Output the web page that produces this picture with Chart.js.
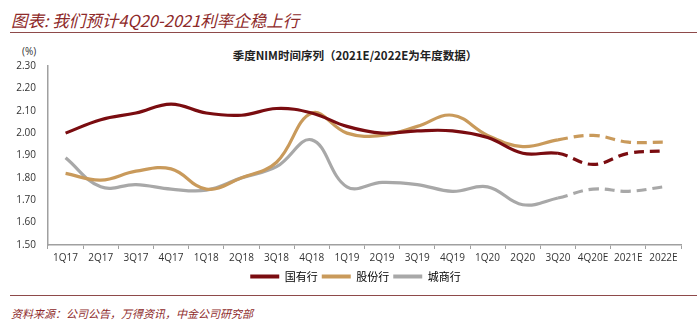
<!DOCTYPE html>
<html>
<head>
<meta charset="utf-8">
<script src="https://cdn.jsdelivr.net/npm/chart.js@4/dist/chart.umd.min.js"></script>
<style>
  html, body { margin: 0; padding: 0; background: #fff; }
  body { width: 697px; height: 335px; position: relative; overflow: hidden; font-family: "Noto Sans CJK SC", "Noto Sans", sans-serif; }
  #title { position: absolute; left: 11px; top: 8px; font-size: 16.5px; font-style: italic; color: #8e2a2a; white-space: nowrap; }
  #rule1 { position: absolute; left: 10px; right: 0; top: 32px; height: 0; border-top: 1.5px solid #8e4a4a; }
  #rule2 { position: absolute; left: 10px; right: 0; top: 295px; height: 0; border-top: 1.5px solid #8e4a4a; }
  #source { position: absolute; left: 11px; top: 305px; font-size: 11px; font-style: italic; color: #8e2a2a; white-space: nowrap; }
  #unit { position: absolute; left: 22px; top: 44px; font-size: 10px; color: #333; font-family: "Open Sans", sans-serif; }
  #ctitle { position: absolute; left: 355px; top: 47px; transform: translateX(-50%); font-size: 11.5px; font-weight: bold; color: #222; white-space: nowrap; }
  #wrap { position: absolute; left: 0; top: 40px; width: 697px; height: 252px; }
</style>
</head>
<body>
<div id="title">图表: 我们预计4Q20-2021利率企稳上行</div>
<div id="rule1"></div>
<div id="unit">(%)</div>
<div id="ctitle">季度NIM时间序列（2021E/2022E为年度数据）</div>
<div id="wrap"><canvas id="c"></canvas></div>
<div id="rule2"></div>
<div id="source">资料来源：公司公告，万得资讯，中金公司研究部</div>
<script>
const categories = ["1Q17","2Q17","3Q17","4Q17","1Q18","2Q18","3Q18","4Q18","1Q19","2Q19","3Q19","4Q19","1Q20","2Q20","3Q20","4Q20E","2021E","2022E"];
const stateOwned = [2.00, 2.06, 2.09, 2.13, 2.09, 2.08, 2.11, 2.09, 2.03, 2.00, 2.01, 2.01, 1.98, 1.91, 1.91, 1.86, 1.91, 1.92];
const jointStock = [1.82, 1.79, 1.83, 1.84, 1.75, 1.80, 1.87, 2.09, 2.00, 1.99, 2.03, 2.08, 1.99, 1.94, 1.97, 1.99, 1.96, 1.96];
const cityBanks  = [1.89, 1.76, 1.77, 1.75, 1.745, 1.80, 1.85, 1.97, 1.76, 1.78, 1.77, 1.74, 1.76, 1.68, 1.71, 1.75, 1.74, 1.76];
const seriesNames = ["国有行", "股份行", "城商行"];
const yTicks = [1.50, 1.60, 1.70, 1.80, 1.90, 2.00, 2.10, 2.20, 2.30];
const forecastStart = 15;

const colors = ["#7a0c10", "#c99a5b", "#a8a8a8"];
const dash = [10, 6];

function mk(label, data, color) {
  return {
    label, data,
    borderColor: color,
    backgroundColor: color,
    borderWidth: 3.2,
    pointRadius: 0,
    pointHoverRadius: 0,
    tension: 0.4,
    fill: false,
    segment: {
      borderDash: ctx => ctx.p1DataIndex >= forecastStart ? dash : undefined
    }
  };
}

const legendShift = {
  id: "legendShift",
  afterLayout(chart) {
    if (chart.legend) { chart.legend.left += 15; chart.legend.right += 15; }
  }
};

new Chart(document.getElementById("c"), {
  type: "line",
  data: {
    labels: categories,
    datasets: [
      mk(seriesNames[0], stateOwned, colors[0]),
      mk(seriesNames[1], jointStock, colors[1]),
      mk(seriesNames[2], cityBanks, colors[2])
    ]
  },
  plugins: [legendShift],
  options: {
    responsive: true,
    maintainAspectRatio: false,
    animation: false,
    devicePixelRatio: 1,
    layout: { padding: { left: 0, right: 16, top: 26, bottom: 0 } },
    plugins: {
      title: { display: false },
      legend: {
        position: "bottom",
        labels: {
          boxWidth: 29,
          boxHeight: 4,
          padding: 4,
          color: "#404040",
          font: { size: 11, family: "'Noto Sans CJK SC', sans-serif" },
          generateLabels: chart => chart.data.datasets.map((ds, i) => ({
            text: ds.label,
            fillStyle: ds.borderColor,
            strokeStyle: ds.borderColor,
            lineWidth: 0,
            datasetIndex: i,
            hidden: false
          }))
        }
      },
      tooltip: { enabled: false }
    },
    scales: {
      x: {
        offset: true,
        grid: {
          offset: true,
          drawOnChartArea: false,
          drawTicks: true,
          tickLength: 4,
          color: "#a0a0a0"
        },
        border: { color: "#a0a0a0", width: 1.5 },
        ticks: {
          color: "#333",
          font: { size: 10, family: "'Open Sans', sans-serif" },
          maxRotation: 0,
          autoSkip: false,
          padding: 3
        }
      },
      y: {
        min: 1.5,
        max: 2.3,
        afterBuildTicks: axis => { axis.ticks = yTicks.map(v => ({ value: v })); },
        afterFit: axis => { axis.width = 48; },
        grid: { drawOnChartArea: false, drawTicks: false },
        border: { color: "#a0a0a0", width: 1.5 },
        ticks: {
          color: "#333",
          padding: 12,
          font: { size: 10, family: "'Open Sans', sans-serif" },
          callback: v => Number(v).toFixed(2)
        }
      }
    }
  }
});
</script>
</body>
</html>
